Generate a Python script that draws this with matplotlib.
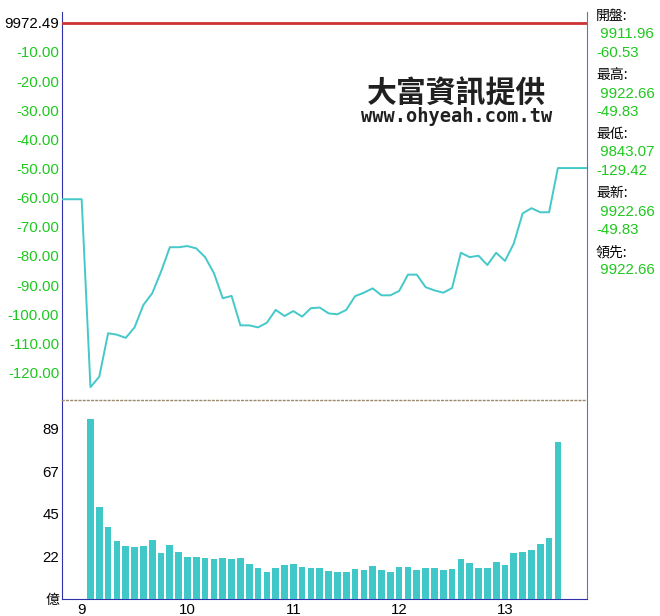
import numpy as np
import matplotlib
matplotlib.use("Agg")
import matplotlib.pyplot as plt

plt.rcParams['font.family'] = ['Liberation Sans', 'Noto Sans CJK TC', 'DejaVu Sans']

# reference levels
prev_close = 9972.49
info = [('開盤:', '9911.96', '-60.53'),
        ('最高:', '9922.66', '-49.83'),
        ('最低:', '9843.07', '-129.42'),
        ('最新:', '9922.66', '-49.83'),
        ('領先:', '9922.66', None)]
low_chg = -129.42

# 5-minute points, index 0 = 09:00
chg = [-60.53, -125.0, -121.4, -106.5, -107.0, -108.1, -104.5, -96.8, -92.8, -85.4,
       -77.0, -77.0, -76.6, -77.4, -80.4, -85.9, -94.5, -93.7, -103.8, -103.8,
       -104.5, -102.9, -98.5, -100.6, -98.9, -100.8, -97.9, -97.7, -99.7, -100.0,
       -98.5, -93.8, -92.6, -91.1, -93.5, -93.5, -92.0, -86.4, -86.4, -90.7,
       -91.8, -92.6, -91.0, -78.9, -80.4, -79.9, -83.1, -78.9, -81.7, -75.7,
       -65.4, -63.6, -65.0, -65.0, -49.83]
# volume (億), 09:05 .. 13:30
vol = [93.9, 48.0, 37.5, 30.4, 27.6, 26.9, 27.6, 30.6, 23.8, 28.1,
       24.5, 21.9, 21.9, 21.3, 21.0, 21.3, 20.7, 21.3, 18.2, 16.0,
       14.0, 16.0, 17.5, 18.2, 16.6, 16.3, 16.0, 14.7, 14.0, 14.0,
       15.6, 14.9, 17.2, 14.9, 14.0, 16.6, 16.6, 15.1, 16.0, 16.3,
       15.1, 15.6, 21.0, 18.7, 16.0, 16.0, 19.1, 17.5, 24.1, 24.5,
       25.4, 28.8, 31.6, 81.7]
hours = ['9', '10', '11', '12', '13']
chg_ticks = [-10, -20, -30, -40, -50, -60, -70, -80, -90, -100, -110, -120]
vol_max_tick = 89

green = '#1ec81e'
cyan = '#44c8ca'
blue = '#3030a8'

x_line = np.arange(len(chg))
x_vol = np.arange(1, len(vol) + 1)
x_left, x_right = -2.23, 57.3

fig = plt.figure(figsize=(6.6, 6.16), dpi=100)
ax1 = fig.add_axes([0.0939, 0.3506, 0.7955, 0.6299])
ax2 = fig.add_axes([0.0939, 0.02776, 0.7955, 0.3229], sharex=ax1)

# price change line
xs = np.concatenate([[x_left], x_line, [x_right]])
ys = np.concatenate([[chg[0]], chg, [chg[-1]]])
ax1.plot(xs, ys, color=cyan, lw=1.4, zorder=3)
ax1.axhline(0, color='#cc3333', lw=2, zorder=3)
ax1.set_xlim(x_left, x_right)
ax1.set_ylim(low_chg, 3.7)
ax1.set_yticks([0] + chg_ticks)
ax1.set_yticklabels(['%.2f' % prev_close] + ['%.2f' % t for t in chg_ticks])
for i, lab in enumerate(ax1.get_yticklabels()):
    lab.set_color('black' if i == 0 else green)
ax1.tick_params(axis='y', length=0, pad=2, labelsize=10.8)
ax1.tick_params(axis='x', length=0, labelbottom=False)
for s in ['top', 'bottom']:
    ax1.spines[s].set_visible(False)
ax1.spines['left'].set_color(blue)
ax1.spines['right'].set_color('#7566c8')

# volume bars
ax2.bar(x_vol, vol, width=0.76, color='#40c8c8', zorder=3)
ax2.set_ylim(0, vol_max_tick * 7 / 6)
vt = [vol_max_tick * k / 4 for k in range(5)]
ax2.set_yticks(vt)
ax2.set_yticklabels(['億'] + ['%d' % round(v + 0.01) for v in vt[1:]])
ax2.set_xticks([(k) * 12 for k in range(len(hours))])
ax2.set_xticklabels(hours)
ax2.tick_params(length=0, labelsize=10.8)
ax2.tick_params(axis='y', pad=2)
ax2.tick_params(axis='x', pad=3)
ax2.get_yticklabels()[0].set_fontsize(10)
# dotted separator between the two panels
ax2.spines['top'].set_color('#9c8a70')
ax2.spines['top'].set_linestyle((0, (1.2, 1.8)))
ax2.spines['top'].set_linewidth(1.0)
ax2.spines['left'].set_color(blue)
ax2.spines['bottom'].set_color(blue)
ax2.spines['right'].set_color('#7566c8')

# watermark
fig.text(0.692, 1 - 94 / 616, '大富資訊提供', ha='center', va='center', fontsize=21.5,
         family='Noto Sans CJK TC', weight='bold', color='#202020')
fig.text(0.692, 1 - 117 / 616, 'www.ohyeah.com.tw', ha='center', va='center', fontsize=13.4,
         family='DejaVu Sans Mono', weight='bold', color='#202020')

# right side info panel
y = 16
for name, price, diff in info:
    fig.text(596 / 660, 1 - y / 616, name, ha='left', va='center', fontsize=10,
             family=['Noto Sans CJK TC', 'DejaVu Sans'])
    y += 18.5
    fig.text(596 / 660, 1 - y / 616, ' ' + price, ha='left', va='center',
             fontsize=10.8, color=green)
    y += 18.5
    if diff is not None:
        fig.text(596 / 660, 1 - y / 616, diff, ha='left', va='center',
                 fontsize=10.8, color=green)
    y += 22

fig.savefig('out.png', dpi=100)
